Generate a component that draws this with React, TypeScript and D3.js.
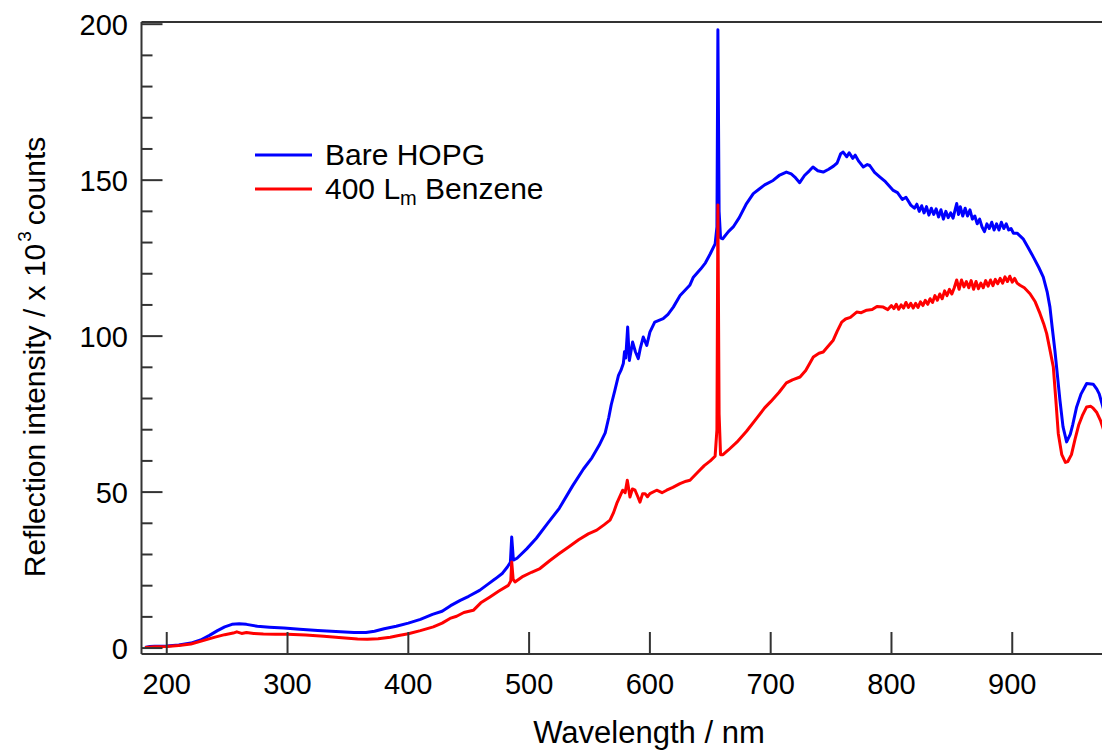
import React from 'react';
import * as d3 from 'd3';

// spectra: [wavelength nm, intensity x10^3 counts]
const bareHopg: [number, number][] = [
  [182, 0.2], [186, 0.5], [190, 0.6], [200, 0.7], [210, 1.0], [220, 1.6], [228, 2.6], [235, 4.0],
  [242, 5.6], [248, 6.8], [254, 7.6], [260, 7.8], [266, 7.6], [275, 7.0], [285, 6.7], [297, 6.4],
  [310, 6.0], [325, 5.6], [340, 5.3], [355, 5.0], [365, 5.0], [372, 5.4], [380, 6.2], [390, 7.0],
  [400, 8.0], [410, 9.2], [420, 10.8], [428, 11.8], [435, 13.6], [443, 15.3], [450, 16.6], [459, 18.5],
  [466, 20.5], [472, 22.2], [478, 24.0], [482, 26.0], [484.5, 27.5], [485.6, 35.6], [487, 28.2],
  [490, 28.8], [498, 31.8], [506, 35.2], [515, 39.8], [525, 44.8], [536, 52], [545, 57.4], [552, 61],
  [558, 65], [563, 69], [566, 74], [568, 78], [571, 82.6], [574, 87.4], [576, 89], [578, 91.2],
  [579, 95], [580, 93], [581.6, 102.9], [583, 92.2], [585.7, 98.1], [588, 95], [590.4, 92.8],
  [592, 96], [594.5, 99.7], [597.4, 97], [600, 101.3], [604, 104.5], [611, 105.6], [615, 107],
  [619.4, 109.3], [625, 113], [633, 116.3], [636, 118.9], [642, 121.5], [646, 123.5], [650, 126.4],
  [654, 129.6], [655.5, 135], [656.3, 198.2], [657.3, 140], [658.5, 131.5], [660.3, 131.2],
  [665, 133.5], [669, 135], [674, 138], [680, 142.5], [685.6, 145.7], [690, 147], [695, 148.5],
  [702, 149.9], [707, 151.5], [713, 152.6], [717, 152], [720, 151], [724, 149.2], [728, 151.5],
  [732, 153], [735, 154.2], [739, 153], [743.5, 152.6], [748, 153.5], [752, 154.5], [755, 155.5],
  [758, 158.5], [760, 159], [763, 157.5], [765, 158.8], [768, 157], [770, 158], [773, 156],
  [776.7, 154.2], [780, 155], [782, 154.7], [786, 152.5], [790.5, 151], [795, 149.5], [801.5, 146.7],
  [805, 146], [809, 143.8], [812, 144.5], [816, 142], [819, 141], [821, 142.3], [823, 140],
  [825, 141.8], [827, 139.5], [829, 141.5], [831, 138.8], [833, 141], [835, 139], [837, 140.8],
  [839, 138.2], [841, 140.5], [843, 137.5], [845, 140], [847, 138], [849, 139.5], [851, 137.8],
  [853, 141], [854, 142.5], [855.5, 139], [857, 141.5], [859, 138.5], [861, 141], [863, 138.5],
  [865, 140.5], [867, 137.5], [869, 138.5], [871, 136], [873, 137.5], [875, 135], [877, 133.5],
  [879, 136], [881, 134.5], [883, 136.5], [885, 134], [887, 136], [889, 134], [891, 136.5],
  [893, 134.5], [895, 136], [897, 134], [899, 134.5], [901, 133], [904, 133], [909, 131.2],
  [913, 128.5], [917.4, 125.4], [922, 122], [925.7, 118.9], [929, 114], [931.2, 109.3], [933, 103],
  [935.3, 95.4], [937.5, 87], [939.5, 79.4], [942, 71], [945, 66.1], [948, 68.5], [950, 71.5],
  [953.3, 77.3], [957, 81.5], [961.6, 84.8], [967, 84.6], [970, 83], [972, 81.5], [976, 76],
];

const benzene400: [number, number][] = [
  [182, 0.2], [190, 0.4], [200, 0.5], [210, 0.8], [220, 1.3], [230, 2.4], [240, 3.5], [248, 4.3],
  [255, 4.8], [258, 5.2], [262, 4.7], [266, 5.0], [272, 4.7], [280, 4.5], [290, 4.4], [300, 4.4],
  [315, 4.2], [330, 3.8], [345, 3.3], [358, 2.9], [366, 2.8], [375, 3.0], [385, 3.5], [392, 4.0],
  [400, 4.6], [410, 5.6], [420.7, 6.8], [428, 8.0], [434.5, 9.5], [440, 10.2], [446, 11.4],
  [453.8, 12.1], [460, 14.5], [467.6, 16.4], [475, 18.3], [482.8, 20.1], [484.8, 21.5], [485.6, 27.6],
  [486.8, 22], [488.3, 21.2], [495, 23], [502, 24.3], [509, 25.5], [517, 28], [525, 30.3],
  [533, 32.5], [541, 34.7], [549, 36.6], [556, 37.8], [562, 39.5], [567, 41], [570, 43.5],
  [572.5, 46.3], [575, 48.5], [577.5, 50.6], [579.5, 49.8], [581.3, 53.8], [583.5, 48.4],
  [585.5, 51], [587.7, 50.6], [590, 48.5], [591.8, 46.8], [594, 49.5], [596, 49.5], [598, 48.5],
  [600, 49.5], [605.6, 50.6], [610, 49.8], [613.9, 50.6], [619, 51.5], [624.9, 52.7], [630, 53.5],
  [633.2, 53.8], [640, 56.5], [645, 58.5], [650, 60], [654, 61.5], [655.5, 70], [656.3, 142],
  [657.3, 75], [658.5, 62], [660.5, 62], [665, 63.5], [672, 66], [680, 69.5], [688, 73.5], [695, 77],
  [700, 79], [707, 82], [713, 85], [718, 86], [724.3, 86.9], [729, 89], [735.3, 93.3], [740, 94.5],
  [743.5, 94.9], [747, 96.5], [751.8, 98.7], [755, 101.5], [758.8, 104.5], [762, 105.5], [766, 106],
  [771.2, 107.7], [775, 107.5], [779.5, 108.3], [784, 108.5], [788, 109.5], [793.2, 109.3],
  [797, 108.5], [800, 109.8], [802, 108.8], [804, 110.2], [806, 108.6], [808, 110], [810, 109],
  [812, 110.8], [814, 109.2], [816, 110.5], [818, 109], [820, 110.5], [822, 109.2], [824, 111],
  [826, 109.8], [828, 111.5], [830, 110.2], [832, 112], [834, 110.8], [836, 113], [838, 111.5],
  [840, 113.5], [842, 112], [844, 114.5], [846, 113], [848, 115], [850, 113.5], [852, 115.5],
  [854, 118], [856, 115], [858, 118], [860, 115.8], [862, 117.5], [864, 115.5], [866, 117.8],
  [868, 115], [870, 117.5], [872, 115.2], [874, 117], [876, 115.5], [878, 117.8], [880, 116],
  [882, 118], [884, 116.2], [886, 118.2], [888, 116.8], [890, 118.5], [892, 117], [894, 119],
  [896, 117.5], [898, 119.2], [900, 117.3], [902, 118.5], [904, 117], [906.4, 116.3], [910, 115.5],
  [914.7, 113.6], [919, 111], [923, 107.2], [926, 104], [928.5, 100.8], [931, 96], [934, 90.1],
  [936, 80], [938.1, 68.8], [941, 62], [944, 59.5], [946, 59.8], [949, 62], [952, 67], [955, 71.5],
  [958, 74.5], [961.6, 77.3], [965, 77.5], [967, 76.9], [970, 75.5], [973, 73], [976, 69.5],
];

const xTickValues = [200, 300, 400, 500, 600, 700, 800, 900];
const yTickValues = [0, 50, 100, 150, 200];
const yMinorValues = d3.range(0, 201, 10);

const W = 1102;
const H = 753;
const left = 141.5;
const right = 1102;
const top = 22;
const bottom = 654;
const font = '"Liberation Sans", Arial, sans-serif';
const axisColor = '#333';

export default function App() {
  const x = d3.scaleLinear().domain([179.1, 974.3]).range([left, right]);
  const y = d3.scaleLinear().domain([-1.9, 200.7]).range([bottom, top]);

  const line = d3.line<[number, number]>()
    .x(d => x(d[0]))
    .y(d => y(d[1]));

  return (
    <svg width={W} height={H} style={{ position: 'absolute', left: 0, top: 0, background: '#fff' }}>
      <defs>
        <clipPath id="plot">
          <rect x={left} y={0} width={right - left} height={bottom} />
        </clipPath>
      </defs>

      <g clipPath="url(#plot)" fill="none" strokeWidth={3} strokeLinejoin="round">
        <path d={line(bareHopg) || ''} stroke="#0000ff" />
        <path d={line(benzene400) || ''} stroke="#ff0000" />
      </g>

      {/* frame */}
      <g stroke={axisColor} strokeWidth={2}>
        <line x1={left} x2={right} y1={top} y2={top} />
        <line x1={left} x2={left} y1={top} y2={bottom} />
        <line x1={left} x2={right} y1={bottom} y2={bottom} />
        {yMinorValues.map(v => (
          <line key={'m' + v} x1={left} x2={left + (v % 50 === 0 ? 21 : 11)} y1={y(v)} y2={y(v)} />
        ))}
        {xTickValues.map(v => (
          <line key={'x' + v} x1={x(v)} x2={x(v)} y1={bottom} y2={bottom - 22} />
        ))}
      </g>

      <g fontFamily={font} fontSize={29} fill="#000">
        {yTickValues.map(v => (
          <text key={v} x={128} y={y(v) + 11} textAnchor="end">{v}</text>
        ))}
        {xTickValues.map(v => (
          <text key={v} x={x(v)} y={694} textAnchor="middle">{v}</text>
        ))}
      </g>

      <text x={649} y={743} textAnchor="middle" fontFamily={font} fontSize={31}>Wavelength / nm</text>

      <text transform="translate(45,357) rotate(-90)" textAnchor="middle" fontFamily={font} fontSize={30}>
        Reflection intensity / x 10<tspan fontSize={19} dx={2} dy={-14}>3</tspan><tspan dx={6} dy={14}>counts</tspan>
      </text>

      {/* legend */}
      <g fontFamily={font} fontSize={30}>
        <line x1={255} x2={312} y1={155} y2={155} stroke="#0000ff" strokeWidth={3} />
        <line x1={255} x2={312} y1={189} y2={189} stroke="#ff0000" strokeWidth={3} />
        <text x={325} y={165}>Bare HOPG</text>
        <text x={325} y={199}>400 L<tspan fontSize={20} dy={6}>m</tspan><tspan dy={-6}> Benzene</tspan></text>
      </g>
    </svg>
  );
}
